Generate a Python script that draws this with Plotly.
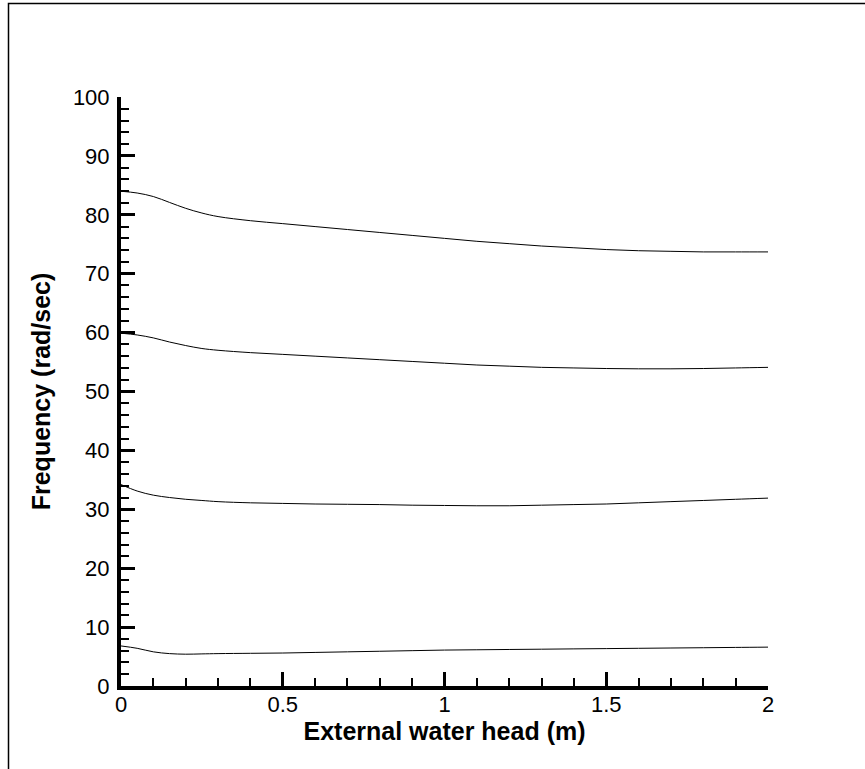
import plotly.graph_objects as go

head = [0, 0.05, 0.1, 0.15, 0.2, 0.25, 0.3, 0.4, 0.5, 0.6, 0.7, 0.8, 0.9, 1.0,
        1.1, 1.2, 1.3, 1.4, 1.5, 1.6, 1.7, 1.8, 1.9, 2.0]

mode4 = [84.0, 83.7, 83.1, 82.1, 81.1, 80.3, 79.7, 79.0, 78.5, 78.0, 77.5, 77.0, 76.5, 76.0,
         75.5, 75.1, 74.7, 74.4, 74.1, 73.9, 73.8, 73.7, 73.7, 73.7]
mode3 = [59.9, 59.6, 59.1, 58.4, 57.8, 57.3, 57.0, 56.6, 56.3, 56.0, 55.7, 55.4, 55.1, 54.8,
         54.5, 54.3, 54.1, 54.0, 53.9, 53.85, 53.85, 53.9, 54.0, 54.1]
mode2 = [34.2, 33.1, 32.4, 32.0, 31.7, 31.5, 31.3, 31.1, 31.0, 30.9, 30.85, 30.8, 30.7, 30.65,
         30.6, 30.6, 30.7, 30.8, 30.9, 31.1, 31.3, 31.5, 31.7, 31.9]
mode1 = [6.8, 6.4, 5.8, 5.5, 5.4, 5.45, 5.5, 5.55, 5.6, 5.7, 5.8, 5.9, 6.0, 6.1,
         6.15, 6.2, 6.25, 6.3, 6.35, 6.4, 6.45, 6.5, 6.55, 6.6]

x_ticks = [0, 0.5, 1, 1.5, 2]
x_labels = ["0", "0.5", "1", "1.5", "2"]
y_ticks = [0, 10, 20, 30, 40, 50, 60, 70, 80, 90, 100]
y_labels = [str(v) for v in y_ticks]

W, H = 865, 769
L, R, T, B = 121, 97, 97, 83
pw, ph = W - L - R, H - T - B

fig = go.Figure()
for ys in (mode1, mode2, mode3, mode4):
    fig.add_trace(go.Scatter(x=head, y=ys, mode="lines",
                             line=dict(color="black", width=1, shape="spline", smoothing=1.0),
                             showlegend=False, hoverinfo="skip"))

font = "Liberation Sans, Arial, sans-serif"

def px2x(p):
    return (p - L) / pw

def py2y(p):
    return (H - B - p) / ph

fig.update_layout(
    width=W, height=H,
    margin=dict(l=L, r=R, t=T, b=B),
    paper_bgcolor="white", plot_bgcolor="white",
    font=dict(family=font, color="black", size=22),
    xaxis=dict(range=[0, 2], tickvals=x_ticks, ticktext=x_labels, showgrid=False, zeroline=False,
               showline=True, linecolor="black", linewidth=4,
               ticks="inside", ticklen=14, tickwidth=3, tickcolor="black",
               minor=dict(ticks="inside", ticklen=8, tickwidth=1.5, tickcolor="black", dtick=0.1, showgrid=False),
               tickfont=dict(size=22), ticklabelstandoff=-4,
               title=dict(text="<b>External water head (m)</b>", font=dict(size=25), standoff=0)),
    yaxis=dict(range=[0, 100], tickvals=y_ticks, ticktext=y_labels, showgrid=False, zeroline=False,
               showline=True, linecolor="black", linewidth=4,
               ticks="inside", ticklen=14, tickwidth=3, tickcolor="black",
               minor=dict(ticks="inside", ticklen=8, tickwidth=1.5, tickcolor="black", dtick=2, showgrid=False),
               tickfont=dict(size=22), ticklabelstandoff=3,
               title=dict(text="<b>Frequency (rad/sec)</b>", font=dict(size=25), standoff=16)),
    shapes=[dict(type="rect", xref="paper", yref="paper",
                 x0=px2x(8.5), x1=px2x(W + 10), y0=py2y(H + 10), y1=py2y(3.5),
                 line=dict(color="black", width=1.5), layer="below")],
)

fig.write_html("out.html", config={"displayModeBar": False},
               post_script="document.body.style.margin='0';")
